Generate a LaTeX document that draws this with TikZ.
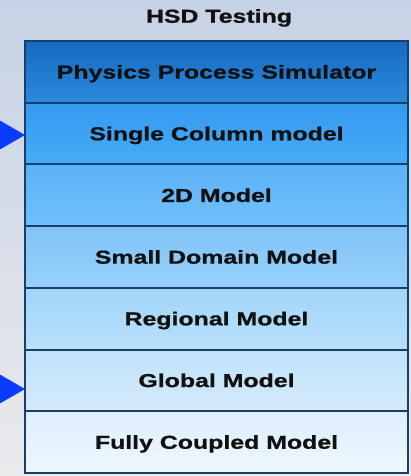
\documentclass[tikz,border=0pt]{standalone}
\usepackage{fontspec}
\setmainfont{Liberation Sans}
\newfontfamily\labfont[FakeStretch=1.33,FakeBold=0.9]{Liberation Sans Bold}
\definecolor{bgtop}{HTML}{C6D2E6}
\definecolor{bgbot}{HTML}{EAEAEC}
\definecolor{frame}{HTML}{173F6A}
\definecolor{arrowblue}{HTML}{0A3CFF}
\definecolor{txt}{HTML}{111111}
\definecolor{a1}{HTML}{1769BE}\definecolor{b1}{HTML}{2A8ADC}
\definecolor{a2}{HTML}{3599EE}\definecolor{b2}{HTML}{46ACF8}
\definecolor{a3}{HTML}{5CB2F7}\definecolor{b3}{HTML}{70C0FA}
\definecolor{a4}{HTML}{80C4F8}\definecolor{b4}{HTML}{97D0FA}
\definecolor{a5}{HTML}{A2D5F9}\definecolor{b5}{HTML}{B8E0FA}
\definecolor{a6}{HTML}{C0E2FA}\definecolor{b6}{HTML}{D4EAFA}
\definecolor{a7}{HTML}{DCEEFC}\definecolor{b7}{HTML}{EFF7FD}
\tikzset{
  layer/.style={draw=frame, line width=2pt, minimum width=383pt, minimum height=61.7pt,
    inner sep=0pt, outer sep=0pt, text height=13.4pt, text depth=0pt,
    font=\labfont\fontsize{18.7}{20}\selectfont, text=txt, anchor=north},
  title/.style={font=\labfont\fontsize{18.7}{20}\selectfont, text=txt, text height=13.4pt, text depth=0pt},
  pointer/.style={fill=arrowblue},
}
\begin{document}
\begin{tikzpicture}[x=1pt,y=-1pt]
\shade[top color=bgtop, bottom color=bgbot] (0,0) rectangle (411,476);
\useasboundingbox (0,0) rectangle (411,476);
\node[title] (title) at (219,16) {HSD Testing};
\node[layer, top color=a1, bottom color=b1] (r1) at (216.5,41) {Physics Process Simulator};
\node[layer, top color=a2, bottom color=b2] (r2) at (r1.south) {Single Column model};
\node[layer, top color=a3, bottom color=b3] (r3) at (r2.south) {2D Model};
\node[layer, top color=a4, bottom color=b4] (r4) at (r3.south) {Small Domain Model};
\node[layer, top color=a5, bottom color=b5] (r5) at (r4.south) {Regional Model};
\node[layer, top color=a6, bottom color=b6] (r6) at (r5.south) {Global Model};
\node[layer, top color=a7, bottom color=b7] (r7) at (r6.south) {Fully Coupled Model};
\draw[frame, line width=2.5pt] (r1.north west) rectangle (r7.south east);
\coordinate (p1) at (r2.west |- 0,135);
\coordinate (p2) at (r6.west |- 0,389);
\fill[pointer] (p1) -- ++(-26,-15) -- ++(0,30) -- cycle;
\fill[pointer] (p2) -- ++(-26,-15) -- ++(0,30) -- cycle;
\end{tikzpicture}
\end{document}
